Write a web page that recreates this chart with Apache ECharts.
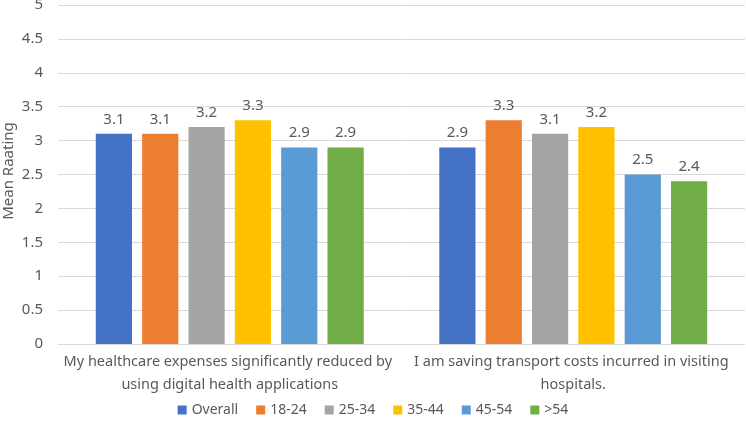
<!DOCTYPE html>
<html>
<head>
<meta charset="utf-8">
<script src="https://cdn.jsdelivr.net/npm/echarts@6/dist/echarts.min.js"></script>
<style>
html, body { margin: 0; padding: 0; background: #fff; }
#chart { width: 746px; height: 428px; }
</style>
</head>
<body>
<div id="chart"></div>
<script>
var categories = [
	'My healthcare expenses significantly reduced by using digital health applications',
	'I am saving transport costs incurred in visiting hospitals.'
];
var seriesNames = ['Overall', '18-24', '25-34', '35-44', '45-54', '>54'];
var overall = [3.1, 2.9];
var age18to24 = [3.1, 3.3];
var age25to34 = [3.2, 3.1];
var age35to44 = [3.3, 3.2];
var age45to54 = [2.9, 2.5];
var ageOver54 = [2.9, 2.4];
var colors = ['#4472C4', '#ED7D31', '#A5A5A5', '#FFC000', '#5B9BD5', '#70AD47'];

var font = 'Noto Sans';
var textColor = '#595959';

var myChart = echarts.init(document.getElementById('chart'));

var dataList = [overall, age18to24, age25to34, age35to44, age45to54, ageOver54];
var series = [];
for (var i = 0; i < seriesNames.length; i++) {
	series.push({
		name : seriesNames[i],
		type : 'bar',
		data : dataList[i],
		barGap : '28%',
		barCategoryGap : '22%',
		itemStyle : { color : colors[i] },
		label : {
			show : true,
			position : 'top',
			distance : 7,
			color : textColor,
			fontFamily : font,
			fontSize : 15
		}
	});
}

var option = {
	animation : false,
	color : colors,
	grid : { left : 58, right : 1, top : 5, bottom : 84, outerBoundsMode : 'none', containLabel : false },
	// y축 제목은 graphic으로 직접 배치
	graphic : [{
		type : 'text',
		x : 9,
		y : 171,
		rotation : Math.PI / 2,
		style : {
			text : 'Mean Raating',
			align : 'center',
			verticalAlign : 'middle',
			fill : textColor,
			font : '15px "Noto Sans"'
		}
	}],
	legend : {
		bottom : 6,
		itemWidth : 9,
		itemHeight : 9,
		itemGap : 18,
		icon : 'rect',
		textStyle : { color : textColor, fontFamily : font, fontSize : 14 },
		data : seriesNames
	},
	xAxis : {
		type : 'category',
		data : categories,
		axisLine : { lineStyle : { color : '#D9D9D9' } },
		axisTick : { show : false },
		axisLabel : {
			color : textColor,
			fontFamily : font,
			fontSize : 14.5,
			width : 340,
			overflow : 'break',
			lineHeight : 23,
			margin : 6,
			interval : 0
		}
	},
	yAxis : {
		type : 'value',
		min : 0,
		max : 5,
		interval : 0.5,
		axisLabel : { color : textColor, fontFamily : font, fontSize : 15, margin : 15 },
		splitLine : { lineStyle : { color : '#D9D9D9' } },
		axisLine : { show : false },
		axisTick : { show : false }
	},
	series : series
};
myChart.setOption(option);
</script>
</body>
</html>
